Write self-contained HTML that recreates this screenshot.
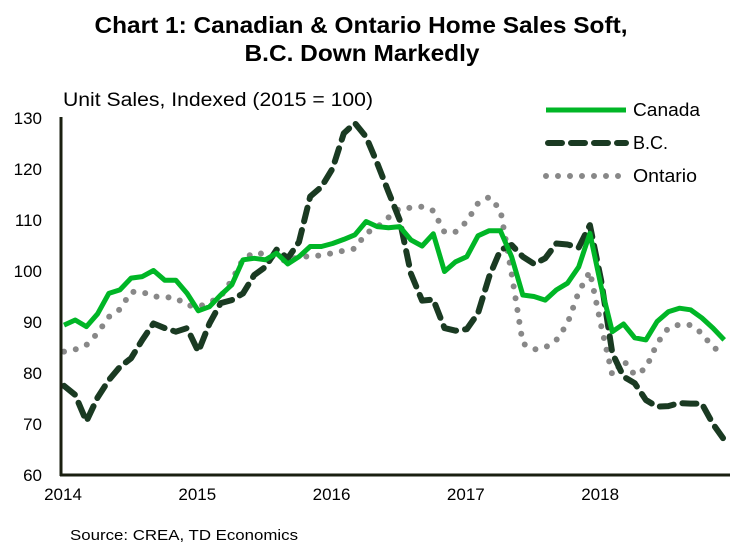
<!DOCTYPE html>
<html><head><meta charset="utf-8"><style>
html,body{margin:0;padding:0;background:#fff;}
svg{display:block;font-family:"Liberation Sans",Arial,sans-serif;}
</style></head><body>
<svg id="chart" width="752" height="554" viewBox="0 0 752 554">
<text x="361" y="33" text-anchor="middle" font-size="23" font-weight="bold" fill="#000" textLength="533" lengthAdjust="spacingAndGlyphs">Chart 1: Canadian &amp; Ontario Home Sales Soft,</text>
<text x="362" y="61" text-anchor="middle" font-size="23" font-weight="bold" fill="#000" textLength="235" lengthAdjust="spacingAndGlyphs">B.C. Down Markedly</text>
<text x="63" y="106" font-size="19" fill="#000" textLength="310" lengthAdjust="spacingAndGlyphs">Unit Sales, Indexed (2015 = 100)</text>
<g id="yticks"></g>
<g id="xticks"></g>
<g id="series"></g>
<line x1="61" y1="117" x2="61" y2="476" stroke="#1a1f10" stroke-width="3"/>
<line x1="60" y1="475" x2="730" y2="475" stroke="#1a1f10" stroke-width="3"/>
<g>
<g>
<line x1="546" y1="110" x2="626" y2="110" stroke="#00b626" stroke-width="5"/>
<text x="633" y="116" font-size="18" fill="#000" textLength="67" lengthAdjust="spacingAndGlyphs">Canada</text></g>
<g>
<line x1="548" y1="143" x2="626" y2="143" stroke="#1a3a22" stroke-width="6" stroke-dasharray="14 9" stroke-linecap="round"/>
<text x="633" y="149" font-size="18" fill="#000">B.C.</text></g>
<g>
<line x1="546" y1="176" x2="622" y2="176" stroke="#888" stroke-width="6" stroke-dasharray="0 12" stroke-linecap="round"/>
<text x="633" y="182" font-size="18" fill="#000" textLength="64" lengthAdjust="spacingAndGlyphs">Ontario</text></g>
</g>
<text x="70" y="540" font-size="15" fill="#000" textLength="228" lengthAdjust="spacingAndGlyphs">Source: CREA, TD Economics</text>
</svg>
<script>
const yTicks=[60,70,80,90,100,110,120,130];
const xLabels=["2014","2015","2016","2017","2018"];
const canada=[89.4,90.4,89.1,91.6,95.6,96.3,98.6,98.9,100.1,98.2,98.2,95.6,92.2,93,95.3,97.3,102.2,102.5,102.2,103.5,101.4,102.8,104.8,104.8,105.4,106.2,107.1,109.7,108.7,108.5,108.7,106.1,104.9,107.3,99.9,101.8,102.8,106.9,107.9,107.9,102.8,95.3,95,94.3,96.3,97.6,100.8,107.4,97,88.1,89.6,86.9,86.5,90.1,92,92.7,92.4,90.8,88.8,86.5];
const bc=[77.5,75.7,70.5,75.2,78.6,81.2,82.9,86.5,89.7,88.8,88.1,88.8,84.2,89.7,93.7,94.3,95.6,99.2,100.8,104.2,102.5,105.7,114.6,116.5,120.1,127,129,126.3,121.1,115.5,110,99.5,94.2,94.4,88.8,88.3,88.6,91.7,98.9,104.1,105.1,102.8,101.4,102.5,105.4,105.2,104.6,109,98.2,83.9,79.3,78,74.7,73.4,73.5,74.1,74,74,70,66.9];
const ontario=[84.2,84.6,85.5,87.8,91,92.5,95.9,95.9,95,94.9,94.7,93.3,93,93.8,95,98.2,102.3,103.6,103.3,102.6,101.8,102.9,102.8,103.1,103.5,104,104.4,107.4,108.6,110.5,112.3,112.4,112.6,111.8,107.6,107.7,109.7,113.3,114.5,112,99.5,85.8,84.6,85,86.5,89.7,95.9,99.9,89.3,79.6,82.5,79.6,80.9,85.8,88.8,89.5,89.4,87.8,85,84];
const NS="http://www.w3.org/2000/svg";
const yS=v=>475-(v-60)*5.1;
const xS=m=>64+m*11.19;
const yt=document.getElementById('yticks');
yTicks.forEach(v=>{const t=document.createElementNS(NS,'text');


t.setAttribute('x',42);t.setAttribute('y',yS(v)+6);t.setAttribute('text-anchor','end');t.setAttribute('font-size','17');t.textContent=v;yt.appendChild(t);});
const xt=document.getElementById('xticks');
xLabels.forEach((l,i)=>{const t=document.createElementNS(NS,'text');


t.setAttribute('x',xS(i*12)-1);t.setAttribute('y',500);t.setAttribute('text-anchor','middle');t.setAttribute('font-size','17');t.textContent=l;xt.appendChild(t);});
const sg=document.getElementById('series');
function draw(arr,name,stroke,dash,w,cap){const p=document.createElementNS(NS,'path');


p.setAttribute('d',arr.map((v,i)=>(i?'L':'M')+xS(i).toFixed(1)+','+yS(v).toFixed(1)).join(''));
p.setAttribute('fill','none');p.setAttribute('stroke',stroke);p.setAttribute('stroke-width',w);p.setAttribute('stroke-linejoin','round');
if(dash)p.setAttribute('stroke-dasharray',dash);p.setAttribute('stroke-linecap',cap);sg.appendChild(p);}
draw(ontario,'ontario-line','#888','0 12',6,'round');
draw(bc,'bc-line','#1a3a22','14 9',6,'round');
draw(canada,'canada-line','#00b626',null,5,'butt');
</script>
</body></html>
